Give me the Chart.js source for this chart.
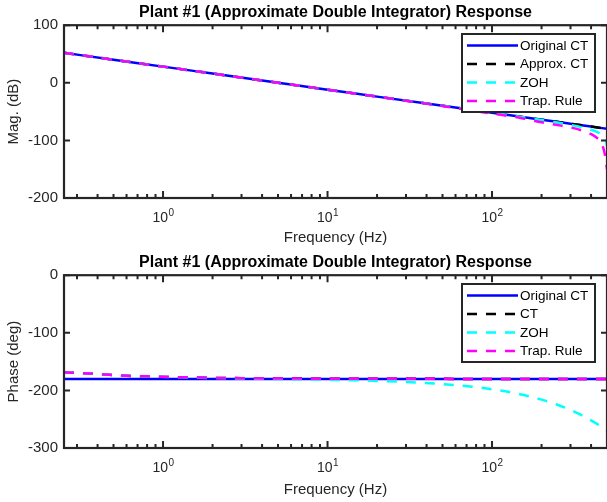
<!DOCTYPE html>
<html>
<head>
<meta charset="utf-8">
<script src="https://cdn.jsdelivr.net/npm/chart.js@4.4.1/dist/chart.umd.min.js"></script>
<style>
  html, body { margin: 0; padding: 0; background: #fff; overflow: hidden; }
  body { width: 607px; height: 502px; position: relative; }
  .panel { position: absolute; left: 0; width: 610px; }
  #magPanel { top: 0; height: 250px; }
  #phasePanel { top: 250px; height: 252px; }
</style>
</head>
<body>
<div class="panel" id="magPanel"><canvas id="magChart" width="610" height="250"></canvas></div>
<div class="panel" id="phasePanel"><canvas id="phaseChart" width="610" height="252"></canvas></div>
<script>
// Bode plot of plant #1: continuous model vs. ZOH and Tustin discretisations

const FONT = '"Liberation Sans", Arial, Helvetica, sans-serif';
const AXIS_COLOR = '#262626';
const TITLE = 'Plant #1 (Approximate Double Integrator) Response';

// magnitude (dB) against frequency (Hz)
const magFreq = [0.25, 0.5, 1, 2, 5, 10, 20, 50, 100, 200, 300, 400, 500];
const origMag = [52.1, 40.0, 28.1, 16.0, 0.1, -11.9, -24.0, -39.9, -51.9, -64.0, -71.0, -76.0, -79.9];
const approxMag = [52.1, 40.0, 28.1, 16.0, 0.1, -11.9, -24.0, -39.9, -51.9, -64.0, -71.0, -76.0, -79.9];
const zohMagFreq = [0.25, 1, 10, 100, 200, 250, 300, 350, 400, 430, 460, 480, 495, 500];
const zohMag = [52.1, 28.1, -11.9, -52.0, -64.6, -68.9, -73.0, -77.0, -81.4, -84.8, -89.5, -95.0, -103.0, -110.0];
const trapMagFreq = [0.25, 1, 10, 50, 100, 150, 200, 250, 300, 350, 400, 440, 460, 480, 490, 500];
const trapMag = [52.1, 28.1, -11.9, -40.3, -53.5, -61.0, -68.5, -73.3, -77.5, -82.5, -89.0, -97.0, -104.0, -118.0, -132.0, -150.0];

// phase (deg) against frequency (Hz)
const origPhaseFreq = [0.25, 1, 10, 100, 500];
const origPhase = [-180, -180, -180, -180, -180];
const ctPhaseFreq = [0.25, 0.33, 0.47, 0.6, 0.8, 1.1, 1.4, 2, 3, 5, 10, 100, 500];
const ctPhase = [-168.7, -170.4, -172.8, -174.5, -175.6, -176.8, -177.3, -178.2, -178.8, -179.3, -179.7, -180, -180];
const zohPhaseFreq = [0.25, 0.33, 0.47, 0.6, 0.8, 1.1, 1.4, 2, 3, 5, 10, 20, 50, 100, 150, 200, 250, 300, 350, 400, 450, 500];
const zohPhase = [-168.7, -170.4, -172.8, -174.5, -175.7, -176.9, -177.5, -178.5, -179.3, -180.2, -181.5, -183.5, -189.0, -198.0, -207.0, -216.0, -225.0, -234.0, -243.0, -252.0, -261.0, -270.0];
const trapPhaseFreq = [0.25, 0.33, 0.47, 0.6, 0.8, 1.1, 1.4, 2, 3, 5, 10, 100, 500];
const trapPhase = [-168.7, -170.4, -172.8, -174.5, -175.6, -176.8, -177.3, -178.2, -178.8, -179.3, -179.7, -180, -180];

// axis ticks
const magTicks = [-200, -100, 0, 100];
const phaseTicks = [-300, -200, -100, 0];
const decades = [0, 1, 2];
const minorFreqs = [0.3, 0.4, 0.5, 0.6, 0.7, 0.8, 0.9, 2, 3, 4, 5, 6, 7, 8, 9, 20, 30, 40, 50, 60, 70, 80, 90, 200, 300, 400, 500];

const magLegend = ['Original CT', 'Approx. CT', 'ZOH', 'Trap. Rule'];
const phaseLegend = ['Original CT', 'CT', 'ZOH', 'Trap. Rule'];

// later series are plotted on top of earlier ones
function series(label, xs, ys, color, dashed, layer) {
  return {
    label: label,
    data: xs.map((x, i) => ({ x: x, y: ys[i] })),
    borderColor: color,
    backgroundColor: color,
    borderWidth: 2.5,
    borderDash: dashed ? [10, 9] : [],
    pointRadius: 0,
    fill: false,
    cubicInterpolationMode: 'monotone',
    order: 10 - layer
  };
}

// MATLAB-style box: frame, inward ticks, decade labels, legend
const boxPlugin = {
  id: 'matlabBox',
  afterDatasetsDraw(chart, args, opts) {
    const ctx = chart.ctx;
    const a = chart.chartArea;
    const xs = chart.scales.x, ys = chart.scales.y;
    ctx.save();
    ctx.strokeStyle = AXIS_COLOR;
    ctx.lineWidth = 2.2;
    ctx.strokeRect(a.left, a.top, a.right - a.left, a.bottom - a.top);

    // y ticks on both sides
    ctx.lineWidth = 2;
    ctx.beginPath();
    opts.yTicks.forEach(v => {
      const py = ys.getPixelForValue(v);
      ctx.moveTo(a.left, py); ctx.lineTo(a.left + 6, py);
      ctx.moveTo(a.right, py); ctx.lineTo(a.right - 6, py);
    });
    // x ticks, top and bottom
    decades.forEach(d => {
      const px = xs.getPixelForValue(Math.pow(10, d));
      ctx.moveTo(px, a.bottom); ctx.lineTo(px, a.bottom - 7);
      ctx.moveTo(px, a.top); ctx.lineTo(px, a.top + 7);
    });
    minorFreqs.forEach(f => {
      const px = xs.getPixelForValue(f);
      ctx.moveTo(px, a.bottom); ctx.lineTo(px, a.bottom - 4);
      ctx.moveTo(px, a.top); ctx.lineTo(px, a.top + 4);
    });
    ctx.stroke();

    // decade labels 10^n
    ctx.fillStyle = AXIS_COLOR;
    ctx.textBaseline = 'alphabetic';
    decades.forEach(d => {
      const px = xs.getPixelForValue(Math.pow(10, d));
      ctx.font = '14px ' + FONT;
      const wBase = ctx.measureText('10').width;
      ctx.font = '10px ' + FONT;
      const wExp = ctx.measureText(String(d)).width;
      const x0 = px - (wBase + wExp) / 2;
      const base = a.bottom + 24;
      ctx.font = '14px ' + FONT;
      ctx.textAlign = 'left';
      ctx.fillText('10', x0, base);
      ctx.font = '10px ' + FONT;
      ctx.fillText(String(d), x0 + wBase + 0.5, base - 6);
    });

    // legend
    const L = opts.legend;
    ctx.fillStyle = '#fff';
    ctx.fillRect(L.x, L.y, L.w, L.h);
    ctx.lineWidth = 2;
    ctx.strokeStyle = AXIS_COLOR;
    ctx.strokeRect(L.x, L.y, L.w, L.h);
    ctx.font = '13.5px ' + FONT;
    ctx.textAlign = 'left';
    ctx.textBaseline = 'middle';
    chart.data.datasets.forEach((ds, i) => {
      const cy = L.y + 11.5 + i * 18.5;
      ctx.strokeStyle = ds.borderColor;
      ctx.lineWidth = 2.5;
      ctx.setLineDash(ds.borderDash);
      ctx.beginPath();
      ctx.moveTo(L.x + 5, cy);
      ctx.lineTo(L.x + 56, cy);
      ctx.stroke();
      ctx.setLineDash([]);
      ctx.fillStyle = '#000';
      ctx.fillText(opts.labels[i], L.x + 58, cy + 0.5);
    });
    ctx.restore();
  }
};

function makeChart(id, datasets, yMin, yMax, yTicks, yTitle, labels, xAxisHeight) {
  return new Chart(document.getElementById(id), {
    type: 'line',
    data: { datasets: datasets },
    plugins: [boxPlugin],
    options: {
      responsive: false,
      animation: false,
      layout: { padding: { left: 0, right: 3, top: 0, bottom: 0 } },
      plugins: {
        legend: { display: false },
        tooltip: { enabled: false },
        title: {
          display: true,
          text: TITLE,
          fullSize: false,
          color: '#000',
          font: { family: FONT, size: 16, weight: 'bold' },
          padding: { top: 3, bottom: 3 }
        },
        matlabBox: {
          yTicks: yTicks,
          labels: labels,
          legend: { x: 462, y: 34, w: 133, h: 78 }
        }
      },
      scales: {
        x: {
          type: 'logarithmic',
          min: 0.25,
          max: 500,
          grid: { display: false, drawTicks: false },
          border: { display: false },
          ticks: { display: false },
          title: {
            display: true,
            text: 'Frequency (Hz)',
            color: AXIS_COLOR,
            font: { family: FONT, size: 15 },
            padding: { top: 0, bottom: 3 }
          },
          afterFit: s => { s.height = xAxisHeight; }
        },
        y: {
          min: yMin,
          max: yMax,
          afterBuildTicks: s => { s.ticks = yTicks.map(v => ({ value: v })); },
          grid: { display: false, drawTicks: false },
          border: { display: false },
          ticks: { color: AXIS_COLOR, padding: 6, font: { family: FONT, size: 15 } },
          title: {
            display: true,
            text: yTitle,
            color: AXIS_COLOR,
            font: { family: FONT, size: 15 },
            padding: { top: 5, bottom: 0 }
          },
          afterFit: s => { s.width = 64; }
        }
      }
    }
  });
}

makeChart('magChart', [
  series('Original CT', magFreq, origMag, '#0000ff', false, 0),
  series('Approx. CT', magFreq, approxMag, '#000000', true, 1),
  series('ZOH', zohMagFreq, zohMag, '#00ffff', true, 2),
  series('Trap. Rule', trapMagFreq, trapMag, '#ff00ff', true, 3)
], -200, 100, magTicks, 'Mag. (dB)', magLegend, 52);

makeChart('phaseChart', [
  series('Original CT', origPhaseFreq, origPhase, '#0000ff', false, 0),
  series('CT', ctPhaseFreq, ctPhase, '#000000', true, 1),
  series('ZOH', zohPhaseFreq, zohPhase, '#00ffff', true, 2),
  series('Trap. Rule', trapPhaseFreq, trapPhase, '#ff00ff', true, 3)
], -300, 0, phaseTicks, 'Phase (deg)', phaseLegend, 54);
</script>
</body>
</html>
